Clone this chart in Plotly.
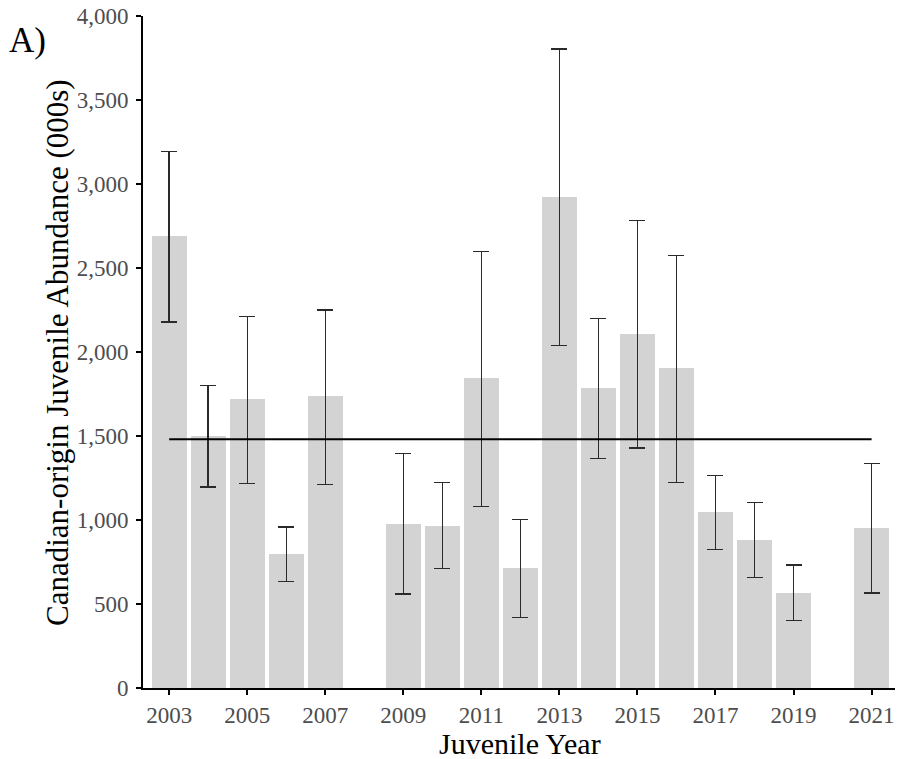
import plotly.graph_objects as go

years = [2003, 2004, 2005, 2006, 2007, 2009, 2010, 2011, 2012, 2013, 2014, 2015, 2016, 2017, 2018, 2019, 2021]
abundance = [2692, 1500, 1718, 796, 1736, 978, 966, 1843, 716, 2924, 1784, 2109, 1903, 1046, 881, 567, 954]
upper = [3192, 1800, 2212, 958, 2250, 1397, 1222, 2597, 1004, 3804, 2198, 2782, 2575, 1264, 1105, 732, 1337]
lower = [2179, 1196, 1218, 633, 1210, 560, 712, 1079, 421, 2040, 1367, 1429, 1224, 823, 659, 401, 565]
mean_line = 1480
x_ticks = [2003, 2005, 2007, 2009, 2011, 2013, 2015, 2017, 2019, 2021]
y_ticks = [0, 500, 1000, 1500, 2000, 2500, 3000, 3500, 4000]

err_plus = [u - a for u, a in zip(upper, abundance)]
err_minus = [a - l for a, l in zip(abundance, lower)]

fig = go.Figure()
fig.add_trace(go.Bar(
    x=years, y=abundance, width=0.9,
    marker=dict(color="#d3d3d3", line=dict(width=0)),
    error_y=dict(type="data", symmetric=False, array=err_plus, arrayminus=err_minus,
                 color="#2a2a2a", thickness=1.4, width=8),
    showlegend=False,
))
fig.add_trace(go.Scatter(
    x=[years[0], years[-1]], y=[mean_line, mean_line], mode="lines",
    line=dict(color="black", width=2), showlegend=False,
))

font_family = "Liberation Serif"
fig.update_layout(
    width=898, height=759,
    margin=dict(l=143, r=3, t=16, b=71),
    paper_bgcolor="white", plot_bgcolor="white",
    font=dict(family=font_family, color="#4d4d4d", size=23),
    bargap=0,
)
fig.add_annotation(text="A)", xref="paper", yref="paper", x=-0.1536, y=0.9635,
                   xanchor="center", yanchor="middle", showarrow=False,
                   font=dict(family=font_family, size=35, color="black"))
fig.add_annotation(text="Canadian-origin Juvenile Abundance (000s)", xref="paper", yref="paper",
                   x=-0.1144, y=0.5, xanchor="center", yanchor="middle", textangle=-90,
                   showarrow=False, font=dict(family=font_family, size=31, color="black"))
fig.add_annotation(text="Juvenile Year", xref="paper", yref="paper",
                   x=0.501, y=-0.0833, xanchor="center", yanchor="middle",
                   showarrow=False, font=dict(family=font_family, size=30, color="black"))
fig.update_xaxes(
    range=[2002.33, 2021.6], tickvals=x_ticks, ticktext=[str(t) for t in x_ticks],
    showline=True, linecolor="black", linewidth=2, ticks="outside", ticklen=5,
    tickcolor="black", tickwidth=1.5, showgrid=False, zeroline=False,
)
fig.update_yaxes(
    range=[0, 4000], tickvals=y_ticks, ticktext=[f"{t:,}" for t in y_ticks],
    showline=True, linecolor="black", linewidth=2, ticks="outside", ticklen=5,
    tickcolor="black", tickwidth=1.5, showgrid=False, zeroline=False,
    ticklabelstandoff=3,
)
fig.write_html("out.html")
